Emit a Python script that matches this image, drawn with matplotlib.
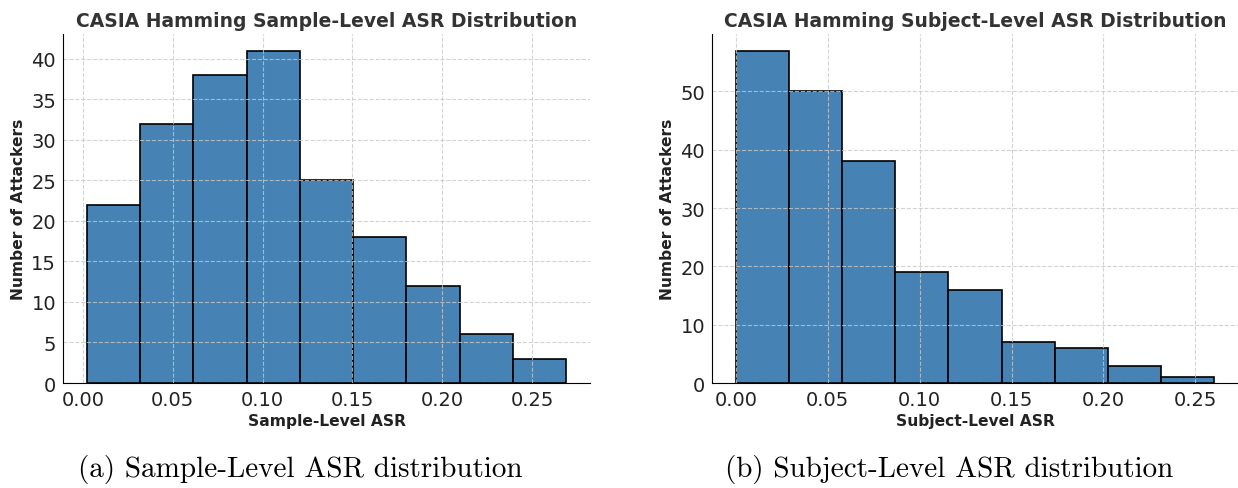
import numpy as np
import matplotlib
matplotlib.use("Agg")
import matplotlib.pyplot as plt
from matplotlib.ticker import FormatStrFormatter, MultipleLocator

# histogram data
sample_edges = np.linspace(0.0022, 0.269, 10)
sample_counts = [22, 32, 38, 41, 25, 18, 12, 6, 3]

subject_edges = np.linspace(0.0, 0.2602, 10)
subject_counts = [57, 50, 38, 19, 16, 7, 6, 3, 1]

panels = [
    ("CASIA Hamming Sample-Level ASR Distribution", "Sample-Level ASR",
     "(a) Sample-Level ASR distribution", sample_edges, sample_counts, 5),
    ("CASIA Hamming Subject-Level ASR Distribution", "Subject-Level ASR",
     "(b) Subject-Level ASR distribution", subject_edges, subject_counts, 10),
]

fig = plt.figure(figsize=(12.38, 4.89), dpi=100)
rects = [[0.0509, 0.2147, 0.4257, 0.7137], [0.5751, 0.2147, 0.4249, 0.7137]]

for rect, (title, xlabel, caption, edges, counts, ystep) in zip(rects, panels):
    ax = fig.add_axes(rect)
    ax.bar(edges[:-1], counts, width=np.diff(edges), align="edge",
           color="#4682B4", edgecolor="black", linewidth=1.2)
    ax.set_title(title, fontsize=13.5, fontweight="bold", color="#333333", pad=6)
    ax.set_xlabel(xlabel, fontsize=11.2, fontweight="bold", color="#222222", labelpad=3)
    ax.set_ylabel("Number of Attackers", fontsize=11.2, fontweight="bold", color="#222222")
    ax.grid(True, linestyle="--", color="#c8c8c8", linewidth=0.8, alpha=0.8)
    ax.spines["top"].set_visible(False)
    ax.spines["right"].set_visible(False)
    ax.tick_params(length=0, labelsize=14, pad=5, labelcolor="#222222")
    ax.xaxis.set_major_locator(MultipleLocator(0.05))
    ax.xaxis.set_major_formatter(FormatStrFormatter("%.2f"))
    ax.yaxis.set_major_locator(MultipleLocator(ystep))
    # caption below each panel
    cx = rect[0] + rect[2] / 2 - 0.021
    fig.text(cx, 0.039, caption, ha="center", va="center", fontsize=21,
             family="cmr10")

fig.savefig("out.png", dpi=100)
